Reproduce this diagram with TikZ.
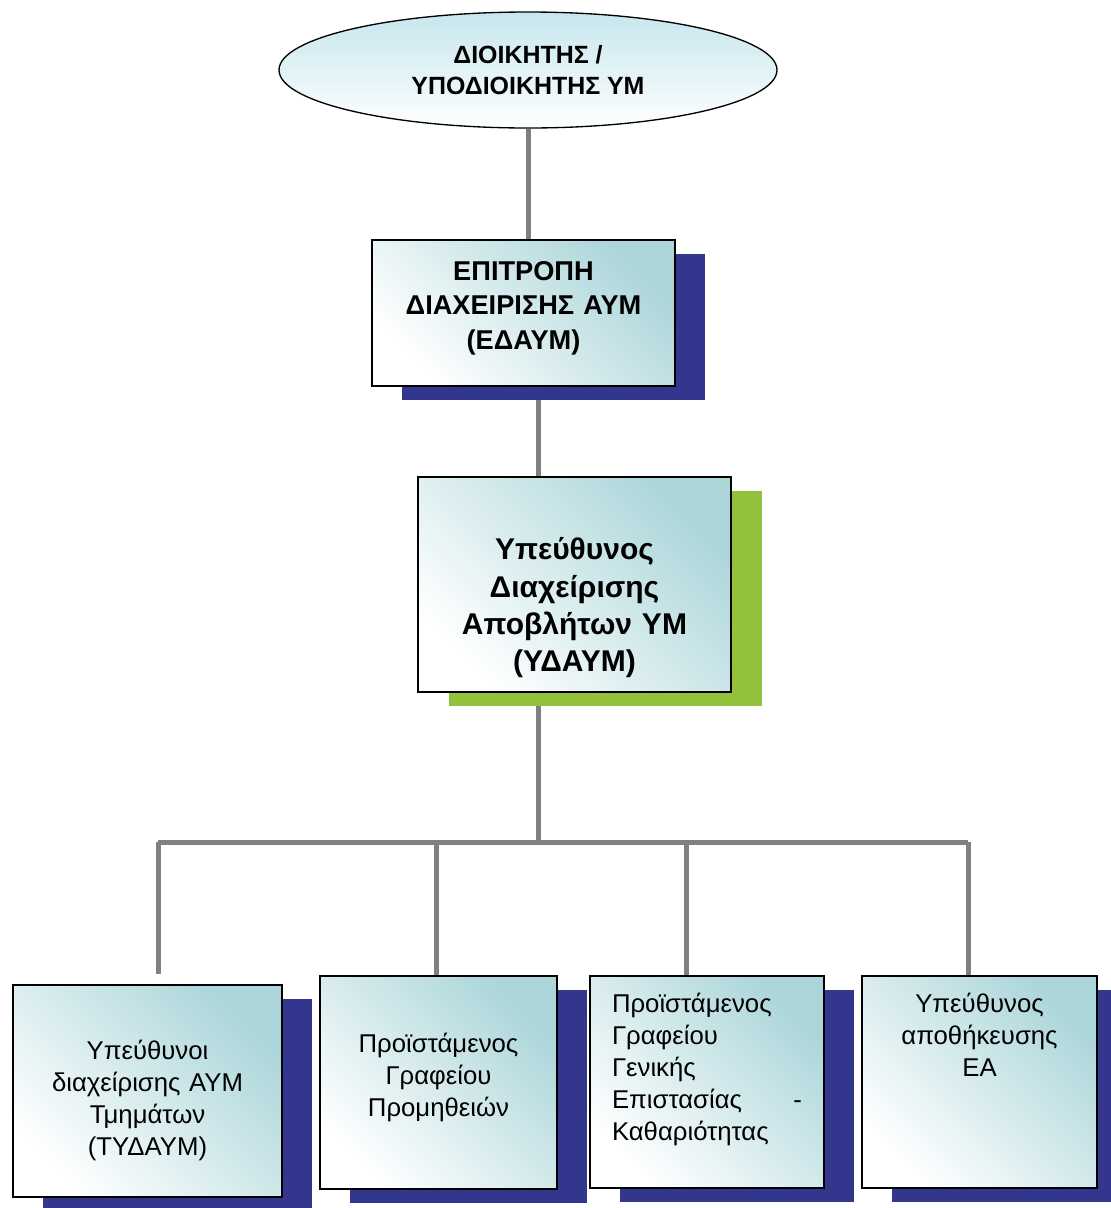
\documentclass[tikz,border=0pt]{standalone}
\usepackage{fontspec}
\setmainfont{Liberation Sans}
\usetikzlibrary{shapes.geometric}
\usetikzlibrary{shadows}
\usetikzlibrary{backgrounds}

\definecolor{shadowblue}{RGB}{50,54,140}
\definecolor{shadowgreen}{RGB}{148,193,60}
\definecolor{linegray}{RGB}{128,128,128}
\definecolor{boxteal}{RGB}{172,214,218}
\definecolor{ovalcyan}{RGB}{198,230,238}

\begin{document}
\begin{tikzpicture}[x=0.75pt, y=-0.75pt,
  connline/.style={draw=linegray, line width=3.75pt},
  ovalbox/.style={ellipse, draw=black, line width=1pt, top color=ovalcyan, bottom color=white,
    inner sep=0pt, align=center, font=\fontsize{18.7}{23}\selectfont\bfseries},
  orgbox/.style={rectangle, draw=black, line width=1.1pt, top color=boxteal, bottom color=white,
    shading angle=-45, inner sep=0pt, align=center},
  blueshadow/.style={drop shadow={shadow xshift=22.5pt, shadow yshift=-10.5pt, fill=shadowblue, opacity=1}},
  greenshadow/.style={drop shadow={shadow xshift=23pt, shadow yshift=-10.5pt, fill=shadowgreen, opacity=1}},
  smalltext/.style={font=\fontsize{19.3}{24}\selectfont}
]
  \useasboundingbox (0,0) rectangle (1111,1208);

  % Define junction points of the connectors
  \coordinate (trunk) at (538, 842);
  \coordinate (drop1) at (158, 842);
  \coordinate (drop2) at (436, 842);
  \coordinate (drop3) at (686, 842);
  \coordinate (drop4) at (968, 842);

  % Top oval
  \node[ovalbox, minimum width=373.5pt, minimum height=87pt] (diok) at (528, 70)
    {ΔΙΟΙΚΗΤΗΣ /\\ΥΠΟΔΙΟΙΚΗΤΗΣ ΥΜ};

  % Committee box (blue shadow)
  \node[orgbox, blueshadow, text width=227.25pt, text height=30pt, text depth=79.5pt,
    font=\fontsize{20.4}{26}\selectfont\bfseries] (edaum) at (523.5, 313)
    {ΕΠΙΤΡΟΠΗ\\ΔΙΑΧΕΙΡΙΣΗΣ ΑΥΜ\\(ΕΔΑΥΜ)};

  % Waste manager box (green shadow)
  \node[orgbox, greenshadow, text width=234.75pt, text height=62pt, text depth=99pt,
    font=\fontsize{22.5}{28}\selectfont\bfseries] (ydaum) at (574.5, 584.5)
    {Υπεύθυνος\\Διαχείρισης\\Αποβλήτων ΥΜ\\(ΥΔΑΥΜ)};

  % Bottom row of boxes
  \node[orgbox, blueshadow, smalltext, text width=201.75pt, text height=55.5pt, text depth=103.5pt]
    (tydaum) at (147.5, 1091) {Υπεύθυνοι\\διαχείρισης ΑΥΜ\\Τμημάτων\\(ΤΥΔΑΥΜ)};
  \node[orgbox, blueshadow, smalltext, text width=177.75pt, text height=57pt, text depth=102.75pt]
    (promith) at (438.5, 1082.5) {Προϊστάμενος\\Γραφείου\\Προμηθειών};
  \node[orgbox, blueshadow, smalltext, align=left, inner xsep=16.5pt, text width=142.5pt,
    text height=27pt, text depth=132pt] (genep) at (707, 1082)
    {Προϊστάμενος\\Γραφείου\\Γενικής\\\makebox[142.5pt][s]{Επιστασίας\hfill-}\\Καθαριότητας};
  \node[orgbox, blueshadow, smalltext, text width=176.25pt, text height=27pt, text depth=132pt]
    (apoth) at (979.5, 1082) {Υπεύθυνος\\αποθήκευσης\\ΕΑ};

  % Draw connectors behind the boxes and shadows
  \begin{pgfonlayer}{background}
    \draw[connline] (diok.south) -- (diok.south |- edaum.north);
    \draw[connline] (trunk |- edaum.south) -- (trunk |- ydaum.north);
    \draw[connline] (trunk |- ydaum.south) -- (trunk);
    \draw[connline] (drop1) -- (drop4);
    \draw[connline, shorten >=7.5pt] (drop1) -- (drop1 |- tydaum.north);
    \draw[connline] (drop2) -- (drop2 |- promith.north);
    \draw[connline] (drop3) -- (drop3 |- genep.north);
    \draw[connline] (drop4) -- (drop4 |- apoth.north);
  \end{pgfonlayer}

\end{tikzpicture}
\end{document}
